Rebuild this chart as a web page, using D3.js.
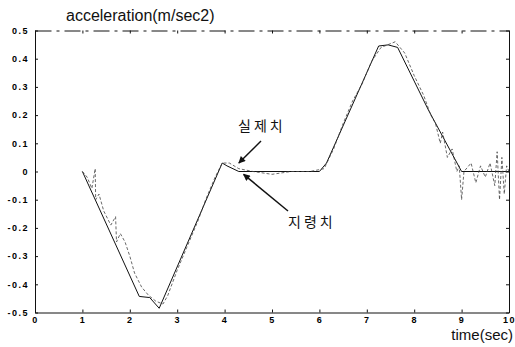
<!DOCTYPE html>
<html>
<head>
<meta charset="utf-8">
<script src="https://cdn.jsdelivr.net/npm/d3@7"></script>
<style>
  body { margin: 0; background: #fff; }
  svg { display: block; }
  .tick text { font-family: "Liberation Sans", Arial, sans-serif; font-weight: bold; font-size: 9px; letter-spacing: 1.5px; fill: #000; }
  .tick line { stroke: #111; }
  .domain { stroke: #111; }
</style>
</head>
<body>
<div id="chart"></div>
<script>
// time in seconds for the command (지령치) profile
const cmdTime = [1.0, 2.2, 2.42, 2.62, 3.95, 4.05, 4.3, 6.0, 6.15, 7.25, 7.45, 7.65, 8.3, 9.0, 10.0]
const cmdAccel = [0.0, -0.443, -0.447, -0.485, 0.03, 0.02, 0.0, 0.0, 0.03, 0.445, 0.449, 0.44, 0.218, 0.0, 0.0]

const actTime = [1.0, 1.1, 1.2, 1.27, 1.28, 1.35, 1.45, 1.6, 1.7, 1.72, 1.8, 1.9, 2.0, 2.1, 2.25, 2.4, 2.55, 2.7,
  2.8, 3.0, 3.2, 3.45, 3.6, 3.8, 3.95, 4.1, 4.3, 4.6, 5.0, 5.4, 5.8, 6.1, 6.3, 6.5, 6.7, 6.9, 7.1, 7.3, 7.6,
  7.8, 8.0, 8.2, 8.35, 8.45, 8.55, 8.6, 8.7, 8.8, 8.9, 8.95, 9.0, 9.05, 9.2, 9.3, 9.4, 9.5, 9.6, 9.7, 9.75,
  9.8, 9.85, 9.9, 9.95, 10.0]
const actAccel = [0.0, -0.02, -0.06, 0.01, -0.1, -0.08, -0.14, -0.19, -0.16, -0.25, -0.22, -0.25, -0.3, -0.36, -0.41, -0.44, -0.46, -0.47,
  -0.44, -0.35, -0.27, -0.17, -0.1, -0.02, 0.03, 0.03, 0.01, 0.0, -0.01, 0.0, 0.0, 0.01, 0.08, 0.17, 0.25, 0.31, 0.39, 0.44, 0.46,
  0.42, 0.34, 0.27, 0.2, 0.17, 0.1, 0.14, 0.05, 0.08, 0.0, 0.02, -0.1, 0.0, 0.03, -0.04, 0.02, -0.02, 0.03, -0.05, 0.07,
  -0.1, 0.05, -0.08, 0.02, 0.0]

const xTicks = [0, 1, 2, 3, 4, 5, 6, 7, 8, 9, 10]
const yTicks = [-0.5, -0.4, -0.3, -0.2, -0.1, 0, 0.1, 0.2, 0.3, 0.4, 0.5]

const titleText = 'acceleration(m/sec2)'
const xLabel = 'time(sec)'
const actualLabel = '실제치'
const commandLabel = '지령치'

const width = 515
const height = 347
const plotLeft = 35
const plotRight = 509
const plotTop = 30.5
const plotBottom = 312.5

const scaleX = d3.scaleLinear().domain([0, 10]).range([plotLeft, plotRight])
const scaleY = d3.scaleLinear().domain([-0.5, 0.5]).range([plotBottom, plotTop])

const svg = d3.select('#chart')
  .append('svg')
  .attr('width', width)
  .attr('height', height)

const fmt = d => (d === 0 ? '0' : d.toFixed(1))

// axes, ticks pointing inward
svg.append('g')
  .attr('transform', `translate(0, ${plotBottom})`)
  .call(d3.axisBottom(scaleX).tickValues(xTicks).tickFormat(d3.format('d'))
    .tickSizeInner(-3).tickSizeOuter(0).tickPadding(4))

svg.append('g')
  .attr('transform', `translate(${plotLeft}, 0)`)
  .call(d3.axisLeft(scaleY).tickValues(yTicks).tickFormat(fmt)
    .tickSizeInner(-3).tickSizeOuter(0).tickPadding(6))

svg.append('g')
  .attr('class', 'axis--top')
  .attr('transform', `translate(0, ${plotTop})`)
  .call(d3.axisTop(scaleX).tickValues(xTicks).tickFormat('')
    .tickSizeInner(-3).tickSizeOuter(0))

svg.append('g')
  .attr('transform', `translate(${plotRight}, 0)`)
  .call(d3.axisRight(scaleY).tickValues(yTicks).tickFormat('')
    .tickSizeInner(-3).tickSizeOuter(0))

// the scanned top border looks broken up
svg.select('.axis--top .domain')
  .attr('stroke-dasharray', '16,5,3,5')
  .attr('stroke', '#444')

const line = d3.line()
  .x(d => scaleX(d[0]))
  .y(d => scaleY(d[1]))

const cmdData = cmdTime.map((t, i) => [t, cmdAccel[i]])
const actData = actTime.map((t, i) => [t, actAccel[i]])

svg.append('path')
  .datum(cmdData)
  .attr('fill', 'none')
  .attr('stroke', '#111')
  .attr('stroke-width', 1)
  .attr('d', line)

svg.append('path')
  .datum(actData)
  .attr('fill', 'none')
  .attr('stroke', '#444')
  .attr('stroke-width', 0.8)
  .attr('stroke-dasharray', '3,2')
  .attr('d', line)

// titles
svg.append('text')
  .attr('x', 66)
  .attr('y', 21)
  .style('font-family', '"Liberation Sans", Arial, sans-serif')
  .style('font-size', '16px')
  .attr('fill', '#111')
  .text(titleText)

svg.append('text')
  .attr('x', 513)
  .attr('y', 340)
  .attr('text-anchor', 'end')
  .style('font-family', '"Liberation Sans", Arial, sans-serif')
  .style('font-size', '15px')
  .attr('fill', '#111')
  .text(xLabel)

// annotations
svg.append('defs').append('marker')
  .attr('id', 'arrow')
  .attr('viewBox', '0 0 10 10')
  .attr('refX', 9)
  .attr('refY', 5)
  .attr('markerWidth', 9)
  .attr('markerHeight', 7)
  .attr('markerUnits', 'userSpaceOnUse')
  .attr('orient', 'auto')
  .append('path')
  .attr('d', 'M0,0L10,5L0,10z')
  .attr('fill', '#111')

const koFont = '"Noto Sans CJK KR", sans-serif'

svg.append('text')
  .attr('x', 238)
  .attr('y', 131)
  .style('font-family', koFont)
  .style('font-size', '14px')
  .style('letter-spacing', '3px')
  .attr('fill', '#111')
  .text(actualLabel)

svg.append('text')
  .attr('x', 288)
  .attr('y', 227)
  .style('font-family', koFont)
  .style('font-size', '14px')
  .style('letter-spacing', '3px')
  .attr('fill', '#111')
  .text(commandLabel)

svg.append('line')
  .attr('x1', 261).attr('y1', 141)
  .attr('x2', scaleX(4.3)).attr('y2', scaleY(0.03))
  .attr('stroke', '#111')
  .attr('stroke-width', 1.5)
  .attr('marker-end', 'url(#arrow)')

svg.append('line')
  .attr('x1', 288).attr('y1', 211)
  .attr('x2', scaleX(4.4)).attr('y2', scaleY(-0.01))
  .attr('stroke', '#111')
  .attr('stroke-width', 1.5)
  .attr('marker-end', 'url(#arrow)')
</script>
</body>
</html>
